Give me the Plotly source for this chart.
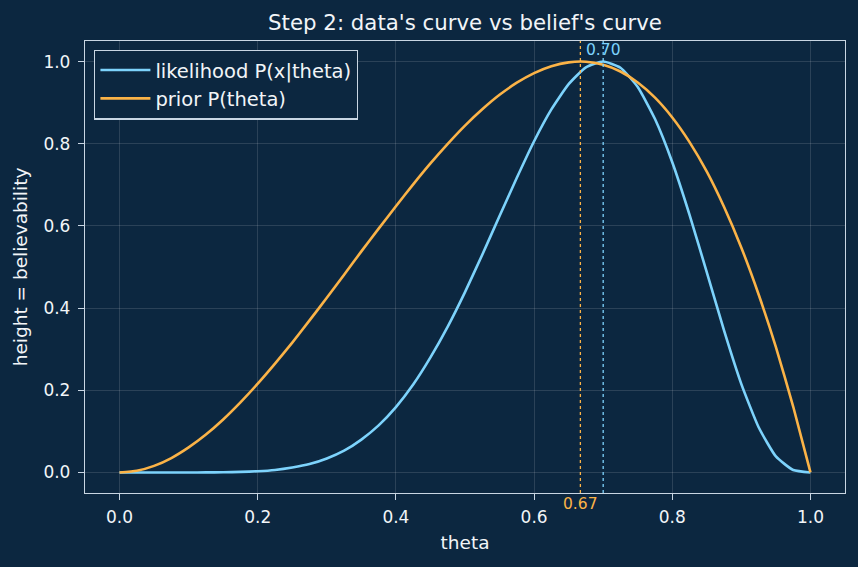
import plotly.graph_objects as go

theta = [0.0, 0.025, 0.05, 0.075, 0.1, 0.125, 0.15, 0.175, 0.2, 0.225, 0.25,
         0.275, 0.3, 0.325, 0.35, 0.375, 0.4, 0.425, 0.45, 0.475, 0.5,
         0.525, 0.55, 0.575, 0.6, 0.625, 0.65, 0.675, 0.7, 0.725, 0.75,
         0.775, 0.8, 0.825, 0.85, 0.875, 0.9, 0.925, 0.95, 0.975, 1.0]
likelihood = [0.0, 0.0, 0.0, 0.0, 0.0, 0.0001, 0.0005, 0.0013, 0.003, 0.0061, 0.012,
              0.0204, 0.034, 0.053, 0.080, 0.1145, 0.159, 0.214, 0.280, 0.355, 0.439,
              0.530, 0.624, 0.717, 0.806, 0.8835, 0.945, 0.986, 1.0, 0.985, 0.938,
              0.860, 0.755, 0.627, 0.487, 0.345, 0.215, 0.110, 0.039, 0.0059, 0.0]
prior = [0.0, 0.0041, 0.016, 0.0351, 0.061, 0.0923, 0.129, 0.1706, 0.216, 0.2648, 0.316,
         0.3701, 0.425, 0.4813, 0.538, 0.5933, 0.648, 0.7011, 0.752, 0.7996, 0.844,
         0.8837, 0.919, 0.9485, 0.972, 0.9888, 0.998, 0.9995, 0.992, 0.9757, 0.949,
         0.9122, 0.864, 0.804, 0.732, 0.646, 0.547, 0.4332, 0.305, 0.1604, 0.0]
peak_like = 0.70
peak_prior = 0.667
x_ticks = [0.0, 0.2, 0.4, 0.6, 0.8, 1.0]
y_ticks = [0.0, 0.2, 0.4, 0.6, 0.8, 1.0]

BG = "#0c2740"
FG = "#f2f5f8"
SPINE = "#c9d6e3"
BLUE = "#7dd3fc"
ORANGE = "#fbb347"
GRID = "rgba(255,255,255,0.13)"
FONT = "DejaVu Sans"

fig = go.Figure()
fig.add_trace(go.Scatter(x=theta, y=likelihood, mode="lines", name="likelihood P(x|theta)",
                         line=dict(color=BLUE, width=2.6, shape="spline", smoothing=0.5)))
fig.add_trace(go.Scatter(x=theta, y=prior, mode="lines", name="prior P(theta)",
                         line=dict(color=ORANGE, width=2.6, shape="spline", smoothing=0.5)))

fig.add_shape(type="line", x0=peak_prior, x1=peak_prior, y0=0, y1=1, xref="x", yref="paper",
              line=dict(color=ORANGE, width=1.3, dash="dot"))
fig.add_shape(type="line", x0=peak_like, x1=peak_like, y0=0, y1=1, xref="x", yref="paper",
              line=dict(color=BLUE, width=1.3, dash="dot"))
fig.add_annotation(x=peak_like, y=1, xref="x", yref="paper", text=f"{peak_like:.2f}",
                   showarrow=False, yanchor="top", xanchor="center", yshift=2,
                   font=dict(color=BLUE, size=15.5, family=FONT))
fig.add_annotation(x=peak_prior, y=0, xref="x", yref="paper", text=f"{peak_prior:.2f}",
                   showarrow=False, yanchor="top", xanchor="center", yshift=0,
                   font=dict(color=ORANGE, size=15.5, family=FONT))

axis_common = dict(showline=True, linecolor=SPINE, linewidth=1.3, mirror=True,
                   ticks="outside", tickcolor=SPINE, ticklen=6, tickwidth=1.3,
                   gridcolor=GRID, gridwidth=1, zeroline=False,
                   tickfont=dict(color=FG, size=17, family=FONT))
fig.update_xaxes(range=[-0.05, 1.05], tickvals=x_ticks, ticktext=[f"{v:.1f}" for v in x_ticks],
                 ticklabelstandoff=2,
                 title=dict(text="theta", font=dict(color=FG, size=18.5, family=FONT), standoff=10),
                 **axis_common)
fig.update_yaxes(range=[-0.05, 1.05], tickvals=y_ticks, ticktext=[f"{v:.1f}" for v in y_ticks],
                 ticklabelstandoff=4,
                 title=dict(text="height = believability", font=dict(color=FG, size=18.5, family=FONT), standoff=10),
                 **axis_common)

fig.update_layout(
    width=858, height=567,
    paper_bgcolor=BG, plot_bgcolor=BG,
    margin=dict(l=85, r=13, t=41, b=74),
    title=dict(text="Step 2: data's curve vs belief's curve", x=0.5, xanchor="center",
               xref="paper", y=0.961, yanchor="middle",
               font=dict(color=FG, size=21.3, family=FONT)),
    font=dict(family=FONT, color=FG),
    legend=dict(x=0.012, y=0.981, xanchor="left", yanchor="top",
                bgcolor=BG, bordercolor=SPINE, borderwidth=1.3,
                itemwidth=50, tracegroupgap=0,
                font=dict(color=FG, size=19.5, family=FONT)),
    showlegend=True,
)

fig.write_html("out.html")
